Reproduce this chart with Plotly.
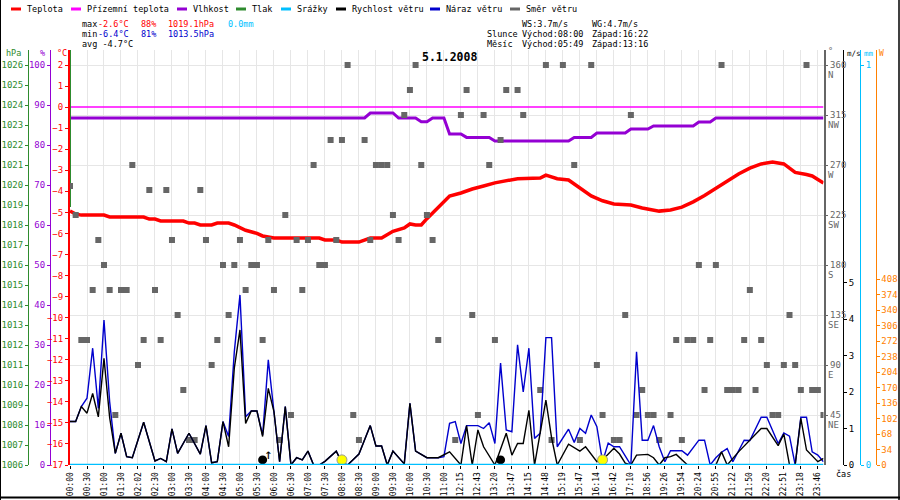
import plotly.graph_objects as go

# ---------------- data ----------------
time_labels = ["00:00","00:30","01:00","01:30","02:02","02:30","03:00","03:30","04:00","04:30",
               "05:00","05:30","06:00","06:30","07:00","07:30","08:00","08:30","09:00","09:30",
               "10:00","10:30","11:00","12:15","12:43","13:20","13:47","14:15","14:48","15:19",
               "15:47","16:14","16:42","17:10","18:56","19:26","19:54","20:24","20:55","21:22",
               "21:50","22:20","22:51","23:18","23:46"]
SAMPLES_PER_LABEL = 3
N_SAMPLES = 133

temp_i = [0,1,2,6,7,13,14,15,16,20,21,22,23,25,26,28,29,31,33,34,35,36,44,45,47,48,51,52,53,55,
          57,59,60,61,62,63,65,67,69,71,73,75,79,83,84,86,88,90,92,94,96,99,101,104,106,108,110,
          112,114,116,118,120,122,124,126,127,128,130,131,133]
temp_c = [-4.94,-5.08,-5.13,-5.13,-5.22,-5.22,-5.32,-5.32,-5.41,-5.41,-5.51,-5.51,-5.60,-5.60,
          -5.51,-5.51,-5.60,-5.85,-6.0,-6.12,-6.17,-6.22,-6.22,-6.31,-6.31,-6.41,-6.41,-6.31,
          -6.22,-6.22,-5.9,-5.74,-5.55,-5.6,-5.6,-5.3,-4.75,-4.22,-4.08,-3.89,-3.75,-3.6,-3.4,
          -3.37,-3.23,-3.4,-3.46,-3.84,-4.22,-4.45,-4.6,-4.65,-4.79,-4.94,-4.89,-4.75,-4.5,-4.2,
          -3.85,-3.5,-3.18,-2.9,-2.7,-2.61,-2.7,-2.9,-3.1,-3.2,-3.27,-3.6]

apparent_i = [0, 133]
apparent_c = [0.0, 0.0]

hum_i = [0,52,53,57,58,61,62,63,64,66,67,69,70,74,75,88,89,92,93,98,99,102,103,110,111,113,114,133]
hum_pct = [86.75,86.75,88,88,86.75,86.75,85.8,85.8,86.75,86.75,82.75,82.75,81.9,81.9,81,81,
           81.9,81.9,83,83,84,84,84.75,84.75,85.75,85.75,86.75,86.75]

press_i = [0, 0]
press_hpa = [1018.9, 1030.0]

rain_i = [0, 133]
rain_mm = [0.0, 0.0]

solar_i = [0]
solar_w = [None]          # no radiation readings on this day

speed_i = [0,1,2,3,4,5,6,7,8,9,10,11,13,15,16,17,18,19,21,23,24,25,26,27,28,29,30,31,32,33,34,
           35,36,37,38,39,40,41,42,43,44,45,47,48,49,51,53,54,55,56,57,59,60,61,63,65,67,69,70,
           71,72,73,75,77,78,79,80,81,82,84,85,86,88,90,91,93,94,96,97,98,99,100,102,103,104,
           105,106,107,109,114,115,116,118,120,122,123,125,126,127,128,129,130,132,133]
speed_ms = [1.19,1.19,1.60,1.42,1.96,1.32,2.92,1.3,0.32,0.87,0.23,0.2,1.17,0.11,0.18,0.09,0.99,
            0.32,0.87,0.30,1.08,0.06,0.09,1.19,0.5,2.65,3.70,1.14,1.48,1.48,0.78,2.1,1.46,0.09,
            1.60,0,0.2,0.14,0.38,0,0,0.1,0.38,0.06,0,0.3,1.08,0.52,0.52,0,0.38,0.03,1.69,0.38,
            0.2,0.2,0.36,0,1.08,0,0.96,0.5,0,0.87,0.27,0.59,0.59,1.5,0,1.78,0.75,0,0.57,0.38,
            0.5,0.09,0.14,0.46,0.3,0.05,0,0.27,0.29,0.2,0,0.2,0.23,0.29,0,0,0.36,0,0.36,0.68,
            1.0,1.0,0.53,0.85,0,0,1.28,0.41,0.09,0.18]

gust_i = [0,1,2,3,4,5,6,7,8,9,10,11,13,15,16,17,18,19,21,23,24,25,26,27,28,29,30,31,32,33,34,
          35,36,37,38,39,40,41,42,43,44,45,47,48,49,51,53,54,55,56,57,59,60,61,63,65,66,67,68,
          69,70,72,73,74,75,76,77,78,79,80,81,82,83,84,85,86,88,89,90,91,92,93,94,95,96,97,98,
          99,100,101,102,103,104,105,106,108,109,111,112,113,114,115,116,117,119,120,122,123,
          125,126,127,128,129,130,131,132,133]
gust_ms = [1.19,1.19,1.60,1.83,3.2,1.55,3.97,1.73,0.32,0.87,0.23,0.2,1.17,0.11,0.18,0.09,0.99,
           0.32,0.87,0.30,1.08,0.06,0.09,1.19,0.78,3.1,4.66,1.32,1.48,1.48,0.82,2.88,1.46,0.09,
           1.60,0,0.2,0.14,0.38,0,0,0.1,0.38,0.06,0,0.3,1.08,0.52,0.52,0,0.38,0.03,1.69,0.38,
           0.2,0.2,0.23,1.14,1.19,0.59,1.08,1.08,1.0,1.16,0.59,2.79,0.96,0.91,3.29,2.0,3.2,0.73,
           0.87,3.49,3.49,0.5,0.98,0.62,1.0,0.87,1.37,1.05,0.09,0.6,0.5,0.5,0.25,0,3.1,0.68,
           0.68,1.08,0.5,0.09,0.39,0.39,0.27,0.68,0.68,0,0.2,0.35,0.45,0.09,0.68,0.67,1.31,1.31,
           0.59,0.88,0.79,0,1.31,1.31,0.36,0.27,0.09]

dir_i = [0,1,2,3,4,5,6,7,8,9,10,11,12,13,14,15,16,17,18,19,20,21,22,23,24,25,26,27,28,29,30,
         31,32,33,34,35,36,37,38,39,40,41,42,43,44,45,46,47,48,49,50,51,52,53,54,55,56,57,58,59,
         60,61,62,63,64,65,68,69,70,71,72,73,74,75,76,77,79,80,83,84,85,87,89,90,92,93,94,96,97,
         98,99,100,101,102,103,104,106,107,108,109,110,111,112,113,114,115,116,117,118,119,120,
         121,122,123,124,125,126,127,128,129,130,131,132,133]
dir_deg = [251,225,112.5,112.5,157.5,202.5,180,157.5,45,157.5,157.5,270,90,112.5,247.5,157.5,
           112.5,247.5,202.5,135,67.5,22.5,22.5,247.5,202.5,90,112.5,180,135,180,202.5,157.5,
           180,180,112.5,202.5,157.5,22.5,225,45,202.5,157.5,202.5,270,180,180,292.5,202.5,
           292.5,360,45,22.5,292.5,202.5,270,270,270,225,202.5,315,337.5,360,270,225,202.5,
           112.5,22.5,315,337.5,135,45,315,270,112.5,292.5,337.5,337.5,315,67.5,360,22.5,360,
           270,22.5,360,90,45,22.5,22.5,135,315,45,67.5,45,45,22.5,45,112.5,22.5,112.5,112.5,
           180,67.5,112.5,180,360,67.5,67.5,67.5,112.5,157.5,67.5,112.5,90,45,45,90,135,90,
           67.5,360,67.5,67.5,45]

sun_i = [48, 94]          # sunrise 08:00, sunset 16:22
moon_i = [34, 76]         # moonrise 05:49, moonset 13:16
event_level_ms = [0.14, 0.14]

legend_names = ["Teplota", "Přízemní teplota", "Vlhkost", "Tlak", "Srážky",
                "Rychlost větru", "Náraz větru", "Směr větru"]
legend_colors = ["#ff0000", "#ff00ff", "#9400d3", "#2e8b2e", "#00bfff",
                 "#000000", "#0000cd", "#666666"]

compass = {45: "NE", 90: "E", 135: "SE", 180: "S", 225: "SW", 270: "W", 315: "NW", 360: "N"}

# ---------------- geometry helpers (pixels -> paper) ----------------
WIDTH, HEIGHT = 900, 500
TOP, BOTTOM = 50, 465
LEFT, RIGHT = 70, 823.5
FONT = "DejaVu Sans Mono"


def pxx(p):
    return p / WIDTH


def pxy(p):
    return (BOTTOM - p) / (BOTTOM - TOP)


C_RED, C_MAG, C_PUR, C_GRN, C_CYAN, C_BLK, C_BLUE, C_GRAY = legend_colors
C_ORANGE = "#ff8000"

fig = go.Figure()

# wind direction squares
fig.add_trace(go.Scatter(x=dir_i, y=dir_deg, yaxis="y4", mode="markers",
                         marker=dict(symbol="square", size=6, color=C_GRAY)))
# temperature etc
fig.add_trace(go.Scatter(x=apparent_i, y=apparent_c, mode="lines", line=dict(color=C_MAG, width=1.5)))
fig.add_trace(go.Scatter(x=temp_i, y=temp_c, mode="lines", line=dict(color=C_RED, width=3.5)))
fig.add_trace(go.Scatter(x=hum_i, y=hum_pct, yaxis="y2", mode="lines", line=dict(color=C_PUR, width=3)))
fig.add_trace(go.Scatter(x=press_i, y=press_hpa, yaxis="y3", mode="lines", line=dict(color=C_GRN, width=2)))
# wind
fig.add_trace(go.Scatter(x=gust_i, y=gust_ms, yaxis="y5", mode="lines", line=dict(color=C_BLUE, width=1.4)))
fig.add_trace(go.Scatter(x=speed_i, y=speed_ms, yaxis="y5", mode="lines", line=dict(color=C_BLK, width=1.4)))
fig.add_trace(go.Scatter(x=moon_i, y=event_level_ms, yaxis="y5", mode="markers",
                         marker=dict(size=9, color="#000000")))
fig.add_trace(go.Scatter(x=sun_i, y=event_level_ms, yaxis="y5", mode="markers",
                         marker=dict(size=10, color="#ffff00", line=dict(color="#999999", width=1))))
# precipitation
fig.add_trace(go.Scatter(x=rain_i, y=rain_mm, yaxis="y6", mode="lines", line=dict(color=C_CYAN, width=2.5)))
# solar radiation (empty) so that its axis is drawn
fig.add_trace(go.Scatter(x=solar_i, y=solar_w, yaxis="y7", mode="lines", line=dict(color=C_ORANGE, width=1.5)))


def yax(color, rng, tickvals, ticktext=None, **kw):
    d = dict(range=rng, tickvals=tickvals, showgrid=False, zeroline=False,
             showline=True, linecolor=color, linewidth=1, ticks="outside", ticklen=3,
             tickcolor=color, tickfont=dict(family=FONT, size=9, color=color),
             automargin=False, fixedrange=True)
    if ticktext is not None:
        d["ticktext"] = ticktext
    d.update(kw)
    return d


px_per_c = 400 / 19
px_per_ms = 36.5
px_per_w = 186 / 408

dir_ticks = [45, 90, 135, 180, 225, 270, 315, 360]

fig.update_layout(
    width=WIDTH, height=HEIGHT,
    margin=dict(l=0, r=0, t=TOP, b=HEIGHT - BOTTOM, pad=0),
    paper_bgcolor="white", plot_bgcolor="white",
    showlegend=False,
    template="none",
    xaxis=dict(domain=[pxx(LEFT), pxx(RIGHT)], range=[0, N_SAMPLES],
               tickvals=[k * SAMPLES_PER_LABEL for k in range(len(time_labels))],
               ticktext=time_labels, tickangle=-90,
               tickfont=dict(family=FONT, size=8, color="black"),
               showgrid=True, gridcolor="#e6e6e6", gridwidth=1,
               ticks="outside", ticklen=3, tickcolor="black",
               showline=False, zeroline=False, automargin=False, fixedrange=True),
    yaxis=yax(C_RED, [-17, -17 + (BOTTOM - TOP) / px_per_c], list(range(-17, 3)),
              side="left", anchor="x", linewidth=2),
    yaxis2=yax(C_PUR, [0, (BOTTOM - TOP) / 4], list(range(0, 101, 10)),
               side="left", overlaying="y", anchor="free", position=pxx(50)),
    yaxis3=yax(C_GRN, [1006, 1006 + (BOTTOM - TOP) / 20], list(range(1006, 1027)),
               side="left", overlaying="y", anchor="free", position=pxx(28)),
    yaxis4=yax(C_GRAY, [0, (BOTTOM - TOP) * 0.9], dir_ticks, [str(v) for v in dir_ticks],
               side="right", overlaying="y", anchor="x", showgrid=True, gridcolor="#e6e6e6",
               linewidth=1.5),
    yaxis5=yax(C_BLK, [0, (BOTTOM - TOP) / px_per_ms], list(range(0, 6)),
               side="right", overlaying="y", anchor="free", position=pxx(843)),
    yaxis6=yax(C_CYAN, [0, (BOTTOM - TOP) / 400], [0, 1],
               side="right", overlaying="y", anchor="free", position=pxx(860)),
    yaxis7=yax(C_ORANGE, [0, (BOTTOM - TOP) / px_per_w], list(range(0, 409, 34)),
               side="right", overlaying="y", anchor="free", position=pxx(875.5)),
)

annotations = []
shapes = []


def txt(x, y, text, color="black", size=8.5, xanchor="left", bold=False, yref="paper", yshift=0):
    annotations.append(dict(x=pxx(x), y=(pxy(y) if yref == "paper" else y), xref="paper",
                            yref=yref, text=text, showarrow=False, xanchor=xanchor,
                            yanchor="middle", yshift=yshift,
                            font=dict(family=FONT, size=size, color=color,
                                      weight=("bold" if bold else "normal"))))


# legend
seg_x = [11, 71, 177, 236, 281, 336, 430, 510]
for name, col, sx in zip(legend_names, legend_colors, seg_x):
    shapes.append(dict(type="line", xref="paper", yref="paper", x0=pxx(sx), x1=pxx(sx + 10),
                       y0=pxy(9), y1=pxy(9), line=dict(color=col, width=3)))
    txt(sx + 14, 9, name)

# stats block
txt(80, 24, "max"); txt(96, 24, "-2.6°C", C_RED); txt(139, 24, "88%", C_RED)
txt(166, 24, "1019.1hPa", C_RED); txt(226, 24, "0.0mm", C_CYAN)
txt(80, 34, "min"); txt(96, 34, "-6.4°C", C_BLUE); txt(139, 34, "81%", C_BLUE)
txt(166, 34, "1013.5hPa", C_BLUE)
txt(80, 44, "avg -4.7°C")
txt(520, 24, "WS:3.7m/s"); txt(590, 24, "WG:4.7m/s")
txt(485, 34, "Slunce"); txt(520, 34, "Východ:08:00"); txt(590, 34, "Západ:16:22")
txt(485, 44, "Měsíc"); txt(520, 44, "Východ:05:49"); txt(590, 44, "Západ:13:16")

# title
txt(449.5, 57, "5.1.2008", size=11.5, xanchor="center", bold=True)

# axis titles
txt(13, 53, "hPa", C_GRN, xanchor="center")
txt(42.5, 53, "%", C_PUR, xanchor="center")
txt(62, 53, "°C", C_RED, xanchor="center")
txt(826, 51, "°", C_GRAY)
txt(845, 54, "m/s", C_BLK, size=7.5)
txt(862, 54, "mm", C_CYAN, size=7.5)
txt(877, 54, "W", C_ORANGE, size=8)
txt(834, 474, "čas", C_BLK)

# compass letters on direction axis
for deg, lab in compass.items():
    annotations.append(dict(x=pxx(826), y=deg, xref="paper", yref="y4", text=lab,
                            showarrow=False, xanchor="left", yanchor="middle", yshift=-10,
                            font=dict(family=FONT, size=9, color=C_GRAY)))

# moonrise arrow
annotations.append(dict(x=moon_i[0] + 1, y=0.3, xref="x", yref="y5", text="↑", showarrow=False,
                        font=dict(family=FONT, size=14, color="black")))

# frame
shapes.append(dict(type="line", xref="paper", yref="paper", x0=pxx(0.5), x1=pxx(0.5),
                   y0=pxy(0), y1=pxy(500), line=dict(color="black", width=1)))
shapes.append(dict(type="line", xref="paper", yref="paper", x0=pxx(899), x1=pxx(899),
                   y0=pxy(0), y1=pxy(500), line=dict(color="black", width=1.5)))
shapes.append(dict(type="line", xref="paper", yref="paper", x0=0, x1=1,
                   y0=pxy(497.5), y1=pxy(497.5), line=dict(color="black", width=2)))

fig.update_layout(annotations=annotations, shapes=shapes)

fig.write_html("out.html", config={"displayModeBar": False},
               post_script="document.body.style.margin='0px';")
